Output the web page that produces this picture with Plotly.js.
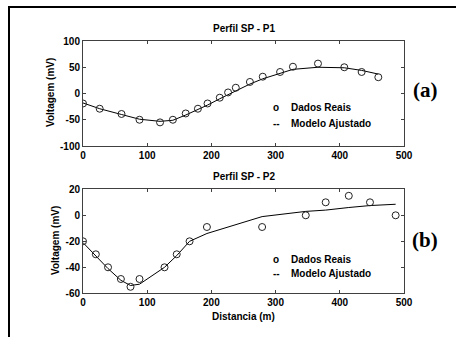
<!DOCTYPE html>
<html>
<head>
<meta charset="utf-8">
<script src="https://cdn.plot.ly/plotly-3.0.1.min.js"></script>
<style>
  html, body { margin: 0; padding: 0; background: #fff; }
  #chart { width: 456px; height: 337px; }
</style>
</head>
<body>
<div id="chart"></div>
<script>
// Perfil SP - P1
const distP1 = [0, 26, 60, 88, 120, 140, 160, 179, 194, 213, 226, 238, 260, 280, 307, 327, 366, 407, 434, 460];
const dadosP1 = [-19, -29, -39, -50, -55, -50, -38, -29, -19, -8, 2, 11, 22, 32, 41, 51, 57, 50, 41, 31];
const modeloP1 = [-18, -29, -40, -49, -53, -51, -41, -31, -22, -10, -2, 6, 18, 28, 39, 46, 50, 49, 44, 37];

// Perfil SP - P2
const distP2 = [0, 20, 39, 59, 74, 88, 127, 146, 166, 193, 279, 347, 378, 414, 447, 487];
const dadosP2 = [-20, -30, -40, -49, -55, -49, -40, -30, -20, -9, -9, 0, 10, 15, 10, 0];
const modeloP2 = [-21, -31, -41, -50, -54, -53, -40, -31, -20, -14, -1, 3, 4, 6, 7.5, 8.5];

const xTicks = [0, 100, 200, 300, 400, 500];
const yTicksP1 = [-100, -50, 0, 50, 100];
const yTicksP2 = [-60, -40, -20, 0, 20];

const subTitles = ['Perfil SP - P1', 'Perfil SP - P2'];
const yLabel = 'Voltagem (mV)';
const xLabel = 'Distancia (m)';
const legendSym = ['o', '--'];
const legendTxt = ['Dados Reais', 'Modelo Ajustado'];
const panelTags = ['(a)', '(b)'];

const W = 456, H = 337;
const px = v => v / W;
const py = v => 1 - v / H;

const axisColor = '#404040';
const baseFont = {family: 'Arial, "Liberation Sans", sans-serif', size: 10, color: '#000', weight: 'bold'};

function lineTrace(x, y, xa, ya) {
  return {x: x, y: y, xaxis: xa, yaxis: ya, type: 'scatter', mode: 'lines',
    line: {color: '#000', width: 1}, showlegend: false, hoverinfo: 'skip'};
}
function markTrace(x, y, xa, ya) {
  return {x: x, y: y, xaxis: xa, yaxis: ya, type: 'scatter', mode: 'markers',
    marker: {symbol: 'circle-open', size: 7, color: '#222', line: {width: 1, color: '#222'}},
    showlegend: false, hoverinfo: 'skip'};
}

const data = [
  lineTrace(distP1, modeloP1, 'x', 'y'),
  markTrace(distP1, dadosP1, 'x', 'y'),
  lineTrace(distP2, modeloP2, 'x2', 'y2'),
  markTrace(distP2, dadosP2, 'x2', 'y2')
];

function xAxis(anchor) {
  return {domain: [px(83), px(404)], anchor: anchor, range: [0, 500],
    tickvals: xTicks, ticktext: xTicks.map(String),
    ticks: 'inside', ticklen: 3, tickcolor: axisColor, tickwidth: 1,
    showline: true, linecolor: axisColor, linewidth: 1, mirror: 'ticks',
    showgrid: false, zeroline: false, tickfont: baseFont, fixedrange: true};
}
function yAxis(anchor, dom, rng, tv) {
  return {domain: dom, anchor: anchor, range: rng,
    tickvals: tv, ticktext: tv.map(String),
    ticks: 'inside', ticklen: 3, tickcolor: axisColor, tickwidth: 1,
    showline: true, linecolor: axisColor, linewidth: 1, mirror: 'ticks',
    showgrid: false, zeroline: false, tickfont: baseFont, fixedrange: true};
}

const ann = [];
function addText(text, x, y, opts) {
  ann.push(Object.assign({text: text, xref: 'paper', yref: 'paper', x: px(x), y: py(y),
    showarrow: false, xanchor: 'center', yanchor: 'middle', font: baseFont}, opts || {}));
}
// subplot titles
addText(subTitles[0], 244, 29);
addText(subTitles[1], 244, 176);
// y labels
addText(yLabel, 50, 93, {textangle: -90});
addText(yLabel, 55, 241, {textangle: -90});
// x label
addText(xLabel, 243, 316);
// legends
const legY = [[108, 123], [259, 273]];
legY.forEach(function (ys) {
  addText(legendSym[0], 276, ys[0]);
  addText(legendTxt[0], 289, ys[0], {xanchor: 'left'});
  addText(legendSym[1], 276, ys[1]);
  addText(legendTxt[1], 289, ys[1], {xanchor: 'left'});
});
// panel tags
const tagFont = {family: '"Liberation Serif", "Times New Roman", serif', size: 21, color: '#000', weight: 'bold'};
addText(panelTags[0], 425, 90, {font: tagFont});
addText(panelTags[1], 425, 240, {font: tagFont});

const layout = {
  width: W, height: H,
  margin: {l: 0, r: 0, t: 0, b: 0},
  paper_bgcolor: '#fff', plot_bgcolor: '#fff',
  showlegend: false,
  xaxis: xAxis('y'),
  yaxis: yAxis('x', [py(146), py(41)], [-100, 100], yTicksP1),
  xaxis2: xAxis('y2'),
  yaxis2: yAxis('x2', [py(293.3), py(189.3)], [-60, 20], yTicksP2),
  annotations: ann,
  shapes: [
    {type: 'line', xref: 'paper', yref: 'paper', x0: px(8), x1: 1, y0: py(7), y1: py(7), line: {color: '#000', width: 2}},
    {type: 'line', xref: 'paper', yref: 'paper', x0: px(9), x1: px(9), y0: py(6), y1: 0, line: {color: '#000', width: 2}}
  ]
};

Plotly.newPlot('chart', data, layout, {staticPlot: true, displayModeBar: false});
</script>
</body>
</html>
